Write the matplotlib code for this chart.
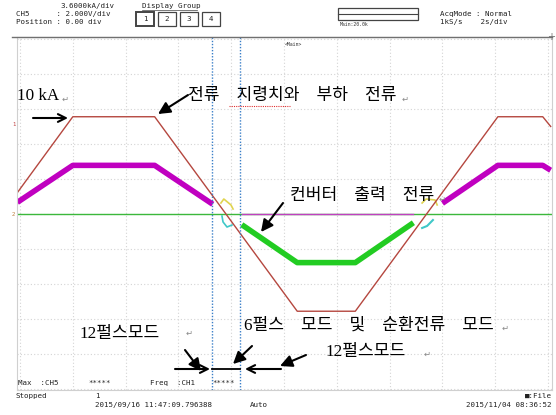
import matplotlib
matplotlib.use("Agg")
import matplotlib.pyplot as plt

# oscilloscope traces, time in s (2 s/div), current in kA (3.6 kA/div)
ref_t = [-0.1, 2.0, 5.1, 10.5, 12.7, 18.1, 19.8, 20.1]
ref_kA = [2.2, 10.0, 10.0, -10.0, -10.0, 10.0, 10.0, 9.0]

conv1_t_a = [-0.1, 2.0, 5.1, 7.3]
conv1_kA_a = [1.2, 5.0, 5.0, 1.0]
conv1_t_b = [16.0, 18.1, 19.8, 20.1]
conv1_kA_b = [1.1, 5.0, 5.0, 4.5]

conv2_t = [8.4, 10.5, 12.7, 14.9]
conv2_kA = [-1.1, -5.0, -5.0, -0.9]

zero_t = [-0.1, 20.15]
conv1_zero_t = [8.4, 14.9]

circ_y_t_a = [7.61, 7.72, 7.99, 8.07]
circ_y_kA_a = [1.13, 1.54, 0.93, 0.51]
circ_c_t_a = [7.65, 7.69, 7.84, 8.03]
circ_c_kA_a = [-0.21, -0.82, -1.34, -1.13]
circ_y_t_b = [15.23, 15.38, 15.72, 15.8]
circ_y_kA_b = [1.13, 1.54, 1.44, 0.93]
circ_c_t_b = [15.23, 15.42, 15.64]
circ_c_kA_b = [-1.44, -1.23, -0.62]

cursor_t = [7.27, 8.33]

W, H = 556, 415


def fp(x, y):
    # pixel position -> figure fraction
    return x / W, 1 - y / H


def hline(x0, x1, y, **kw):
    fig.lines.append(plt.Line2D([x0 / W, x1 / W], [1 - y / H, 1 - y / H],
                                transform=fig.transFigure, **kw))


fig = plt.figure(figsize=(W / 100, H / 100), dpi=100)
ax = fig.add_axes([17 / W, 1 - 390 / H, (552 - 17) / W, (390 - 37) / H])
ax.set_xlim(-0.114, 20.15)
ax.set_ylim(-18.1, 18.2)
ax.set_xticks([2 * i for i in range(11)])
ax.set_yticks([3.6 * i for i in range(-5, 6)])
ax.tick_params(length=0, labelbottom=False, labelleft=False)
ax.grid(True, color="#d4d4d4", linestyle=(0, (1, 2)), linewidth=0.8)
for s in ax.spines.values():
    s.set_color("#d0d0d0")
    s.set_linewidth(0.8)

ax.plot(zero_t, [0, 0], color="#3cb83c", lw=1.0)
ax.plot(conv1_zero_t, [0, 0], color="#c040c0", lw=1.0)
ax.plot(conv1_t_a, conv1_kA_a, color="#c000c0", lw=4, solid_capstyle="butt")
ax.plot(conv1_t_b, conv1_kA_b, color="#c000c0", lw=4, solid_capstyle="butt")
ax.plot(conv2_t, conv2_kA, color="#22cc22", lw=4, solid_capstyle="butt")
ax.plot(circ_y_t_a, circ_y_kA_a, color="#e0d450", lw=1.2)
ax.plot(circ_c_t_a, circ_c_kA_a, color="#40c8c8", lw=1.2)
ax.plot(circ_y_t_b, circ_y_kA_b, color="#e0d450", lw=1.2)
ax.plot(circ_c_t_b, circ_c_kA_b, color="#40c8c8", lw=1.5)
ax.plot(ref_t, ref_kA, color="#b5473f", lw=1.0)
for ct in cursor_t:
    ax.axvline(ct, color="#3a7fc8", lw=1.0, linestyle=(0, (1, 1.2)))

# channel markers on the left edge
fig.text(*fp(12, 124), "1", color="#c04040", fontsize=4, va="center")
fig.text(*fp(12, 214), "2", color="#c08040", fontsize=4, va="center")

# header of the scope screen
mono = dict(family=["DejaVu Sans Mono"], fontsize=5.4, color="#222222", va="center")
fig.text(*fp(60, 6), "3.6000kA/div", **mono)
fig.text(*fp(16, 14), "CH5      : 2.000V/div", **mono)
fig.text(*fp(16, 22), "Position : 0.00 div", **mono)
fig.text(*fp(142, 6), "Display Group", **mono)
hline(142, 197, 10, color="#444444", lw=0.5)
for i, bx in enumerate([145, 167, 189, 211]):
    fig.patches.append(plt.Rectangle(fp(bx - 9, 26), 18 / W, 14 / H, transform=fig.transFigure,
                                     fill=False, ec="#444444", lw=0.9 if i else 1.4))
    fig.text(*fp(bx, 19), str(i + 1), ha="center", **mono)
fig.patches.append(plt.Rectangle(fp(338, 20), 80 / W, 12 / H, transform=fig.transFigure,
                                 fill=False, ec="#444444", lw=0.9))
hline(338, 418, 14, color="#444444", lw=0.8)
fig.text(*fp(340, 25), "Main:20.0k", family="DejaVu Sans Mono", fontsize=3.5, color="#333333", va="center")
fig.text(*fp(440, 14), "AcqMode : Normal", **mono)
fig.text(*fp(440, 22), "1kS/s    2s/div", **mono)
hline(12, 552, 37, color="#707070", lw=1.0)
fig.text(*fp(551, 37), "+", ha="center", va="center", fontsize=7, color="#707070")
fig.text(*fp(285, 45), "<Main>", family="DejaVu Sans Mono", fontsize=3.5, color="#333333", va="center")

# measurement row and footer
fig.text(*fp(18, 383), "Max  :CH5", **mono)
fig.text(*fp(88, 383), "*****", **mono)
fig.text(*fp(150, 383), "Freq  :CH1", **mono)
fig.text(*fp(212, 383), "*****", **mono)
fig.text(*fp(16, 396), "Stopped", **mono)
fig.text(*fp(95, 396), "1", **mono)
fig.text(*fp(95, 405), "2015/09/16 11:47:09.796388", **mono)
fig.text(*fp(250, 405), "Auto", **mono)
fig.text(*fp(552, 396), "\u25a0:File", ha="right", **mono)
fig.text(*fp(552, 405), "2015/11/04 08:36:52", ha="right", **mono)

# annotations
kr = dict(family=["Liberation Serif", "Noto Sans CJK KR", "DejaVu Sans"], fontsize=12.3, color="black", va="center")
mark = dict(family=["DejaVu Sans"], fontsize=6, color="#888888", va="center")
sp = "    "
fig.text(*fp(17, 96), "10 kA", **kr)
fig.text(*fp(62, 99), "\u21b5", **mark)
fig.text(*fp(188, 96), sp.join(["전류", "지령치와", "부하", "전류"]), **kr)
fig.text(*fp(402, 99), "\u21b5", **mark)
hline(229, 290, 106, color="#e03030", lw=0.8, linestyle=(0, (1, 1)))
fig.text(*fp(290, 196), sp.join(["컨버터", "출력", "전류"]), **kr)
fig.text(*fp(439, 199), "\u21b5", **mark)
fig.text(*fp(80, 334), "12펄스모드", **kr)
fig.text(*fp(186, 333), "\u21b5", **mark)
fig.text(*fp(244, 326), sp.join(["6펄스", "모드", "및", "순환전류", "모드"]), **kr)
fig.text(*fp(502, 328), "\u21b5", **mark)
fig.text(*fp(326, 352), "12펄스모드", **kr)
fig.text(*fp(424, 354), "\u21b5", **mark)

arrows = [
    ((33, 118), (68, 118), "->", 14),
    ((188, 95), (158, 114), "-|>", 18),
    ((283, 203), (261, 232), "-|>", 18),
    ((185, 350), (201, 371), "-|>", 18),
    ((252, 346), (233, 364), "-|>", 18),
    ((306, 355), (280, 366), "-|>", 18),
    ((175, 369), (210, 369), "->", 14),
    ((281, 369), (245, 369), "->", 14),
]
for (x0, y0), (x1, y1), st, ms in arrows:
    ax.annotate("", xy=fp(x1, y1), xytext=fp(x0, y0), xycoords="figure fraction",
                textcoords="figure fraction", annotation_clip=False,
                arrowprops=dict(arrowstyle=st, color="black", lw=1.5, mutation_scale=ms,
                                shrinkA=0, shrinkB=0))
hline(212, 240, 369, color="black", lw=1.3)

fig.savefig("out.png", dpi=100)
plt.close(fig)
